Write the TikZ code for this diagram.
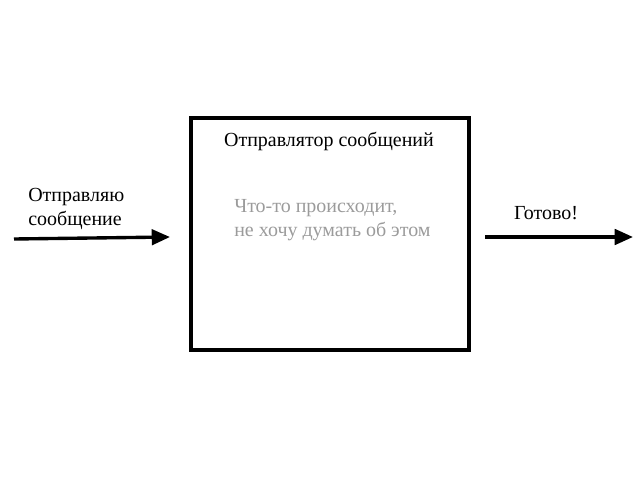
\documentclass[tikz,border=0pt]{standalone}
\usepackage{fontspec}
\setmainfont{Liberation Serif}
\usetikzlibrary{arrows.meta, positioning}
\definecolor{softgray}{RGB}{155,155,155}
\tikzset{
	block/.style={draw, line width=2.6pt, minimum width=198pt, minimum height=165pt, inner sep=0pt},
	wire/.style={line width=2.4pt, -{Triangle[length=13pt, width=11pt]}},
	label text/.style={font=\fontsize{14.2}{17}\selectfont, align=left, inner sep=0pt}
}

\begin{document}
\begin{tikzpicture}[x=0.025cm, y=-0.025cm]
	\useasboundingbox (0, 0) rectangle (640, 480);
	% Paths, nodes and wires:
	\node[block] (sender) at (330, 234){};
	\node[label text] (title) at (329, 141){Отправлятор сообщений};
	\node[label text, text=softgray, anchor=west] (inner) at (234, 220){Что-то происходит,\\не хочу думать об этом};
	\node[label text, anchor=west] (send) at (28, 209){Отправляю\\сообщение};
	\node[label text] (done) at (546, 213){Готово!};
	\coordinate (in start) at (14, 239);
	\coordinate (in end) at (170, 237);
	\coordinate (out start) at (485, 237);
	\coordinate (out end) at (633, 237);
	\draw[wire] (in start) -- (in end);
	\draw[wire] (out start) -- (out end);
\end{tikzpicture}
\end{document}
